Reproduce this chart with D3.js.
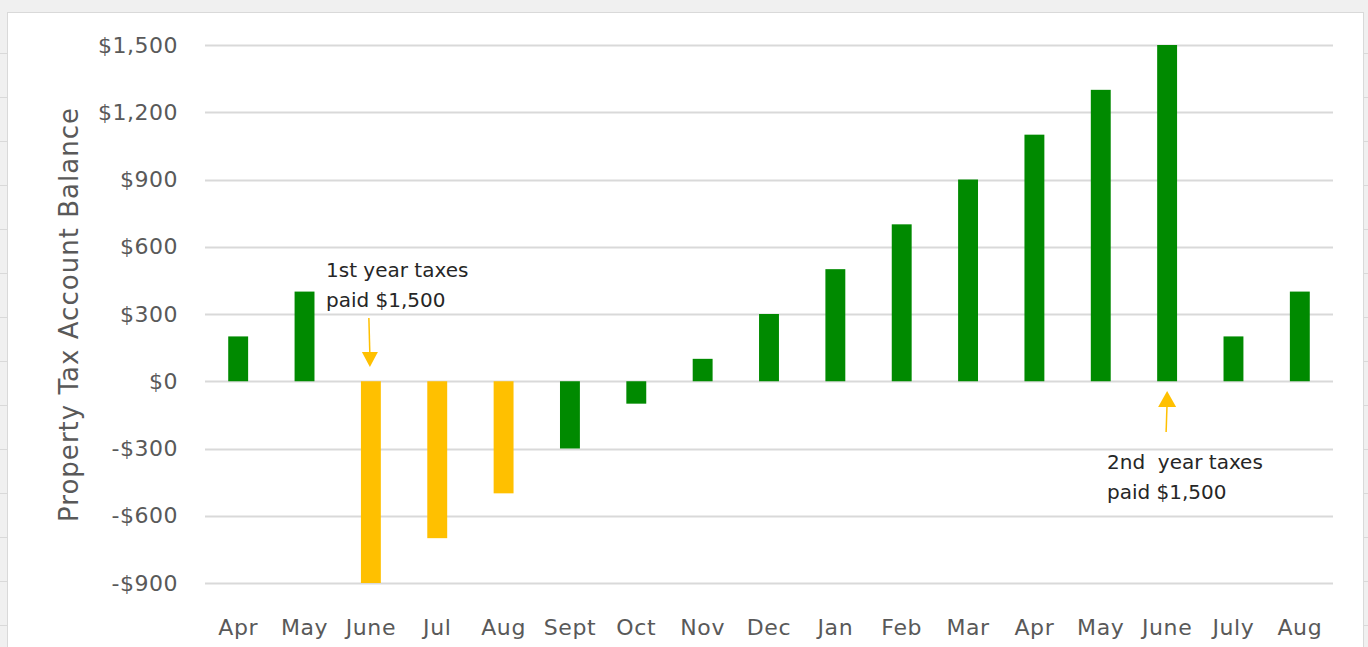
<!DOCTYPE html>
<html><head><meta charset="utf-8">
<script src="https://cdn.jsdelivr.net/npm/d3@7"></script>
<style>html,body{margin:0;padding:0;background:#f0f0f0;}svg{display:block;}</style>
</head><body>
<svg id="chart" width="1368" height="647"></svg>
<script>
const months = ["Apr","May","June","Jul","Aug","Sept","Oct","Nov","Dec","Jan","Feb","Mar","Apr","May","June","July","Aug"];
const balances = [200,400,-900,-700,-500,-300,-100,100,300,500,700,900,1100,1300,1500,200,400];
const barTypes = ["g","g","y","y","y","g","g","g","g","g","g","g","g","g","g","g","g"];
const yTicks = [-900,-600,-300,0,300,600,900,1200,1500];
const keys = months.map((m,i)=>i);

const svg = d3.select("#chart");
const W=1368,H=647;
const font = "'DejaVu Sans', sans-serif";

svg.append("rect").attr("x",0).attr("y",0).attr("width",W).attr("height",H).attr("fill","#f0f0f0");
svg.append("rect").attr("x",7.5).attr("y",12.5).attr("width",1356).attr("height",640).attr("fill","#fff").attr("stroke","#d9d9d9");
for(let yy=53; yy<H; yy+=44){
  svg.append("line").attr("x1",0).attr("x2",7).attr("y1",yy+.5).attr("y2",yy+.5).attr("stroke","#d9d9d9");
  svg.append("line").attr("x1",1364).attr("x2",1368).attr("y1",yy+.5).attr("y2",yy+.5).attr("stroke","#d9d9d9");
}

const x = d3.scaleBand().domain(keys).range([205,1333]).paddingInner(0.7).paddingOuter(0.35);
const y = d3.scaleLinear().domain([-900,1500]).range([583,45]);

svg.append("g").selectAll("line").data(yTicks).join("line")
  .attr("x1",205).attr("x2",1333)
  .attr("y1",d=>Math.round(y(d))+0.5).attr("y2",d=>Math.round(y(d))+0.5)
  .attr("stroke","#d9d9d9").attr("stroke-width",2);

const yAxis = d3.axisLeft(y).tickValues(yTicks).tickSize(0).tickPadding(0)
  .tickFormat(d=> (d<0?"-":"") + "$" + d3.format(",")(Math.abs(d)));
const ya = svg.append("g").attr("transform","translate(178,0)").call(yAxis);
ya.select(".domain").remove();
ya.selectAll("text").attr("font-family",font).attr("font-size",22).attr("fill","#595959").attr("letter-spacing",0.5);

const xAxis = d3.axisBottom(x).tickSize(0).tickPadding(0).tickFormat(i=>months[i]);
const xa = svg.append("g").attr("transform","translate(0,619)").call(xAxis);
xa.select(".domain").remove();
xa.selectAll("text").attr("font-family",font).attr("font-size",22).attr("fill","#595959").attr("letter-spacing",0.6);

svg.append("g").selectAll("rect").data(keys).join("rect")
  .attr("x",i=>x(i)).attr("width",x.bandwidth())
  .attr("y",i=>y(Math.max(0,balances[i])))
  .attr("height",i=>Math.abs(y(balances[i])-y(0)))
  .attr("fill",i=>barTypes[i]==="y"?"#ffc000":"#008a00");

svg.append("text").attr("transform","translate(78,315) rotate(-90)")
  .attr("text-anchor","middle").attr("font-family",font).attr("font-size",26).attr("fill","#595959")
  .attr("textLength",414).attr("lengthAdjust","spacing")
  .text("Property Tax Account Balance");

const ann = svg.append("g").attr("font-family",font).attr("font-size",20).attr("fill","#262626");
ann.append("text").attr("x",326).attr("y",277).text("1st year taxes");
ann.append("text").attr("x",326).attr("y",307).text("paid $1,500");
ann.append("text").attr("x",1107).attr("y",469).attr("xml:space","preserve").text("2nd  year taxes");
ann.append("text").attr("x",1107).attr("y",499).text("paid $1,500");

const c1 = x(2)+x.bandwidth()/2, c2 = x(14)+x.bandwidth()/2;
const arrowCol = "#ffc000";
svg.append("line").attr("x1",c1-2).attr("y1",318).attr("x2",c1-1).attr("y2",356).attr("stroke",arrowCol).attr("stroke-width",1.5);
svg.append("path").attr("d",`M${c1-9},352 L${c1+7},352 L${c1-1},367 Z`).attr("fill",arrowCol);
svg.append("line").attr("x1",c2-1).attr("y1",432).attr("x2",c2).attr("y2",402).attr("stroke",arrowCol).attr("stroke-width",1.5);
svg.append("path").attr("d",`M${c2-9},407 L${c2+9},407 L${c2},391 Z`).attr("fill",arrowCol);
</script>
</body></html>
